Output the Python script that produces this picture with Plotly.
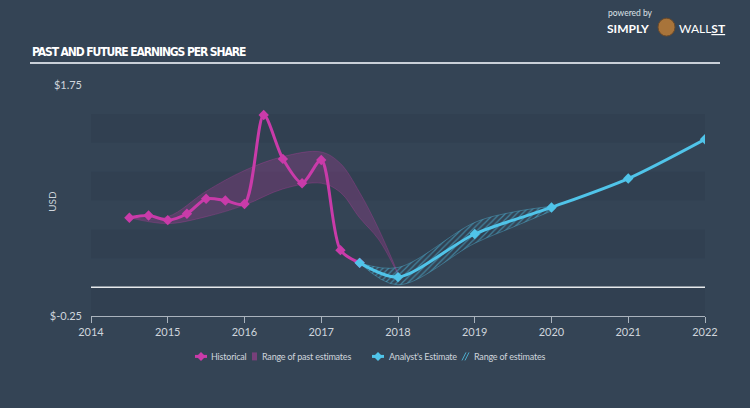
import plotly.graph_objects as go

# ---- data ----
hist_x = [2014.5, 2014.75, 2015.0, 2015.25, 2015.5, 2015.75, 2016.0, 2016.25,
          2016.5, 2016.75, 2017.0, 2017.25, 2017.5]
hist_y = [0.60, 0.62, 0.58, 0.635, 0.765, 0.75, 0.72, 1.49,
          1.11, 0.90, 1.10, 0.32, 0.21]

past_rng_x = [2014.5, 2015.0, 2015.5, 2016.0, 2016.5, 2017.0, 2017.25, 2017.5, 2017.75, 2018.0]
past_rng_hi = [0.60, 0.61, 0.83, 1.01, 1.13, 1.17, 1.07, 0.82, 0.50, 0.12]
past_rng_lo = [0.60, 0.55, 0.61, 0.71, 0.85, 0.90, 0.82, 0.60, 0.41, 0.11]

est_x = [2017.5, 2018.0, 2019.0, 2020.0, 2021.0, 2022.0]
est_y = [0.21, 0.087, 0.46, 0.69, 0.94, 1.28]

est_rng_x = [2017.5, 2018.0, 2019.0, 2019.5, 2020.0]
est_rng_hi = [0.21, 0.17, 0.56, 0.65, 0.70]
est_rng_lo = [0.21, 0.02, 0.38, 0.52, 0.66]

year_ticks = [2014, 2015, 2016, 2017, 2018, 2019, 2020, 2021, 2022]
y_ticks = [-0.25, 1.75]
y_tick_text = ["$-0.25", "$1.75"]
stripe_bands = [(-0.25, 0.0), (0.25, 0.5), (0.75, 1.0), (1.25, 1.5)]

MAG = "#c93ba9"
CYAN = "#50c4e9"
BG = "#344455"
TXT = "#cfd5dc"

W, H = 750, 408
ML, MR, MT, MB = 91, 45, 85, 91.5
PW, PH = W - ML - MR, H - MT - MB


def px(xp):
    return (xp - ML) / PW


def py(yp):
    return (H - MB - yp) / PH


fig = go.Figure()

# past estimates range
fig.add_trace(go.Scatter(x=past_rng_x, y=past_rng_hi, mode="lines",
                         line=dict(color="rgba(201,59,169,0.45)", width=0.6, shape="spline"),
                         showlegend=False, hoverinfo="skip"))
fig.add_trace(go.Scatter(x=past_rng_x, y=past_rng_lo, mode="lines", fill="tonexty",
                         fillcolor="rgba(201,59,169,0.24)",
                         line=dict(color="rgba(201,59,169,0.45)", width=0.6, shape="spline"),
                         showlegend=False))

# future estimates range
fig.add_trace(go.Scatter(x=est_rng_x, y=est_rng_hi, mode="lines",
                         line=dict(color="rgba(80,196,233,0.6)", width=0.6, shape="spline"),
                         showlegend=False, hoverinfo="skip"))
fig.add_trace(go.Scatter(x=est_rng_x, y=est_rng_lo, mode="lines", fill="tonexty",
                         fillcolor="rgba(80,196,233,0.08)",
                         fillpattern=dict(shape="/", fgcolor=CYAN, bgcolor="rgba(0,0,0,0)",
                                          size=4, solidity=0.3),
                         line=dict(color="rgba(80,196,233,0.6)", width=0.6, shape="spline"),
                         showlegend=False))

# historical
fig.add_trace(go.Scatter(x=hist_x, y=hist_y, mode="lines+markers", name="Historical",
                         line=dict(color=MAG, width=3, shape="spline", smoothing=0.8),
                         marker=dict(symbol="diamond", size=8, color=MAG),
                         showlegend=False))
# analyst estimate
fig.add_trace(go.Scatter(x=est_x, y=est_y, mode="lines+markers", name="Analyst's Estimate",
                         line=dict(color=CYAN, width=3, shape="spline", smoothing=0.8),
                         marker=dict(symbol="diamond", size=8, color=CYAN),
                         showlegend=False))

shapes = []
for lo, hi in stripe_bands:
    shapes.append(dict(type="rect", xref="x", yref="y", x0=year_ticks[0], x1=year_ticks[-1],
                       y0=lo, y1=hi, fillcolor="rgba(20,30,40,0.09)", line=dict(width=0),
                       layer="below"))
# zero line
shapes.append(dict(type="line", xref="x", yref="y", x0=year_ticks[0], x1=year_ticks[-1],
                   y0=0, y1=0, line=dict(color="#e6e9ec", width=1.5), layer="above"))
# title underline
shapes.append(dict(type="line", xref="paper", yref="paper", x0=px(30), x1=px(720),
                   y0=py(63), y1=py(63), line=dict(color="#c9d0d8", width=2)))


def diamond(cx, cy, r, color):
    d = (f"M {px(cx - r)} {py(cy)} L {px(cx)} {py(cy - r)} L {px(cx + r)} {py(cy)} "
         f"L {px(cx)} {py(cy + r)} Z")
    return dict(type="path", xref="paper", yref="paper", path=d,
                fillcolor=color, line=dict(color=color, width=0))


LEG_Y = 357
# legend: Historical
shapes.append(dict(type="line", xref="paper", yref="paper", x0=px(195), x1=px(207),
                   y0=py(LEG_Y), y1=py(LEG_Y), line=dict(color=MAG, width=3)))
shapes.append(diamond(201, LEG_Y, 4.5, MAG))
# legend: past range
shapes.append(dict(type="rect", xref="paper", yref="paper", x0=px(252), x1=px(257),
                   y0=py(LEG_Y - 4), y1=py(LEG_Y + 4), fillcolor="rgba(201,59,169,0.45)",
                   line=dict(width=0)))
# legend: Analyst
shapes.append(dict(type="line", xref="paper", yref="paper", x0=px(372), x1=px(384),
                   y0=py(LEG_Y), y1=py(LEG_Y), line=dict(color=CYAN, width=3)))
shapes.append(diamond(378, LEG_Y, 4.5, CYAN))
# legend: est range (hatched)
for off in (0, 3):
    shapes.append(dict(type="line", xref="paper", yref="paper", x0=px(462 + off), x1=px(466 + off),
                       y0=py(LEG_Y + 4), y1=py(LEG_Y - 4),
                       line=dict(color="rgba(80,196,233,0.8)", width=1)))

leg_font = dict(family="Lato", size=9, color=TXT)


def leg_text(s):
    return f'<span style="letter-spacing:-0.2px">{s}</span>'


annotations = [
    dict(text='<span style="letter-spacing:-1.1px"><b>PAST AND FUTURE EARNINGS PER SHARE</b></span>',
         xref="paper", yref="paper",
         x=px(30), y=py(52), xanchor="left", yanchor="middle", showarrow=False,
         font=dict(family="DejaVu Sans Condensed, Liberation Sans Narrow", size=12, color="#ffffff")),
    dict(text="USD", xref="paper", yref="paper", x=px(52), y=py(202), textangle=-90,
         showarrow=False, xanchor="center", yanchor="middle",
         font=dict(family="Lato", size=10, color=TXT)),
    dict(text="powered by", xref="paper", yref="paper", x=px(606), y=py(13), xanchor="left",
         yanchor="middle", showarrow=False, font=dict(family="Lato", size=8.5, color="#dde2e7")),
    dict(text="<b>SIMPLY</b>", xref="paper", yref="paper", x=px(605), y=py(28), xanchor="left",
         yanchor="middle", showarrow=False, font=dict(family="Lato", size=12, color="#ffffff")),
    dict(text="WALL<u><b>ST</b></u>", xref="paper", yref="paper", x=px(677), y=py(28), xanchor="left",
         yanchor="middle", showarrow=False, font=dict(family="Lato", size=12, color="#ffffff")),
    dict(text=leg_text("Historical"), xref="paper", yref="paper", x=px(209), y=py(LEG_Y),
         xanchor="left", yanchor="middle", showarrow=False, font=leg_font),
    dict(text=leg_text("Range of past estimates"), xref="paper", yref="paper", x=px(260),
         y=py(LEG_Y), xanchor="left", yanchor="middle", showarrow=False, font=leg_font),
    dict(text=leg_text("Analyst's Estimate"), xref="paper", yref="paper", x=px(387), y=py(LEG_Y),
         xanchor="left", yanchor="middle", showarrow=False, font=leg_font),
    dict(text=leg_text("Range of estimates"), xref="paper", yref="paper", x=px(472), y=py(LEG_Y),
         xanchor="left", yanchor="middle", showarrow=False, font=leg_font),
]

# simple mascot badge
shapes.append(dict(type="circle", xref="paper", yref="paper", x0=px(658), x1=px(675),
                   y0=py(36), y1=py(18), fillcolor="#a8743a", line=dict(color="#6b4a2a", width=1)))

fig.update_layout(
    width=W, height=H,
    paper_bgcolor=BG, plot_bgcolor=BG,
    margin=dict(l=ML, r=MR, t=MT, b=MB),
    shapes=shapes, annotations=annotations,
    showlegend=False,
    xaxis=dict(range=[year_ticks[0], year_ticks[-1]], tickvals=year_ticks,
               ticktext=[str(v) for v in year_ticks], showgrid=False, zeroline=False,
               showline=True, linecolor="#aab3bd", linewidth=1, ticks="outside",
               ticklen=6, tickcolor="#aab3bd",
               tickfont=dict(family="Lato", size=11, color=TXT)),
    yaxis=dict(range=[y_ticks[0], y_ticks[-1]], tickvals=y_ticks, ticktext=y_tick_text,
               showgrid=False, zeroline=False, showline=False, ticks="",
               ticklabelstandoff=8,
               tickfont=dict(family="Lato", size=11, color=TXT)),
)

fig.write_html("out.html", config={"displayModeBar": False},
               post_script="document.body.style.margin='0';document.body.style.overflow='hidden';")
